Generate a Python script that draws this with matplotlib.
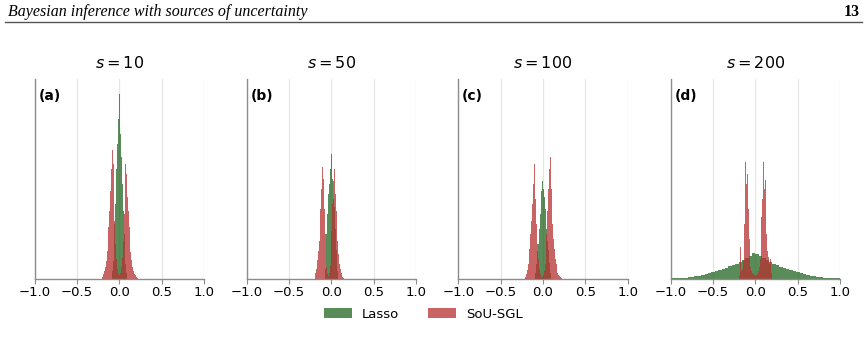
"""Posterior histograms: Lasso vs SoU-SGL for several sparsity levels s."""

import matplotlib

matplotlib.use("Agg")

import matplotlib.pyplot as plt
import numpy as np
from matplotlib.lines import Line2D
from matplotlib.patches import Patch

# ---- data (densities, per bin) ----
s_values = [10, 50, 100, 200]
panel_tags = ["(a)", "(b)", "(c)", "(d)"]
xticks = [-1.0, -0.5, 0.0, 0.5, 1.0]

# bin layout: (first left edge, bin width)
lasso_bins = [(-0.09, 0.01), (-0.08, 0.01), (-0.09, 0.01), (-1.0, 0.04)]
sgl_bins = [(-0.21, 0.01), (-0.20, 0.01), (-0.21, 0.01), (-0.20, 0.01)]

lasso_a = [0.8, 1.8, 3.2, 5.5, 7.5, 11.0, 13.5, 16.0, 19.0,
           18.5, 14.5, 12.2, 9.5, 6.8, 4.5, 2.5, 1.5, 0.6]
lasso_b = [1.0, 2.5, 4.5, 6.5, 8.5, 9.5, 11.0, 13.0,
           12.5, 10.0, 8.0, 7.2, 5.0, 2.9, 1.8, 0.8]
lasso_c = [0.6, 1.5, 2.8, 3.5, 5.0, 6.5, 7.5, 8.8, 9.8,
           9.0, 8.2, 7.0, 6.2, 5.0, 3.8, 2.9, 1.6, 0.6]
lasso_d = [0.03, 0.04, 0.06, 0.08, 0.10, 0.14, 0.19, 0.25, 0.31, 0.39,
           0.48, 0.58, 0.68, 0.77, 0.87, 0.98, 1.10, 1.23, 1.37, 1.50,
           1.70, 1.90, 2.10, 2.30, 2.60, 2.50, 2.25, 2.05, 1.85, 1.65,
           1.50, 1.35, 1.22, 1.10, 0.96, 0.86, 0.76, 0.67, 0.57, 0.47,
           0.38, 0.30, 0.24, 0.18, 0.13, 0.10, 0.07, 0.05, 0.04, 0.03]

sgl_a = [0.2, 0.3, 0.5, 0.8, 1.2, 1.8, 2.8, 4.2, 5.2, 6.8,
         8.8, 11.0, 12.9, 11.5, 8.5, 5.8, 3.5, 2.0, 1.0, 0.5,
         0.2, 0.3, 0.6, 1.2, 2.2, 3.8, 6.5, 9.8, 11.5, 10.5,
         8.2, 6.8, 5.2, 3.8, 2.7, 1.9, 1.2, 0.8, 0.5, 0.4,
         0.2, 0.2, 0.1]
sgl_b = [0.3, 0.6, 1.0, 1.9, 2.8, 3.8, 5.5, 7.0, 9.0, 11.2,
         10.0, 7.0, 4.5, 2.5, 1.2, 0.5, 0.3, 0.6, 1.4, 2.6,
         4.8, 7.5, 9.8, 11.0, 8.5, 6.8, 5.2, 3.8, 2.5, 1.5,
         1.0, 0.6, 0.4, 0.2, 0.1, 0.0, 0.0, 0.0, 0.0, 0.0,
         0.0, 0.0, 0.0, 0.0, 0.0, 0.8]
sgl_c = [0.2, 0.5, 0.9, 1.5, 2.2, 3.0, 4.5, 5.8, 7.5, 9.5,
         11.5, 10.5, 8.0, 5.5, 3.5, 2.0, 1.0, 0.5, 0.3, 0.2,
         0.2, 0.4, 0.8, 1.5, 2.8, 4.5, 6.8, 9.0, 11.0, 12.2,
         9.0, 7.0, 5.5, 4.0, 3.0, 2.0, 1.5, 1.0, 0.6, 0.4,
         0.3, 0.2, 0.1]
sgl_d = [0.0, 0.3, 3.2, 0.8, 1.0, 1.8, 4.0, 5.5, 11.7, 9.5,
         10.5, 7.0, 4.0, 2.2, 1.2, 0.8, 0.6, 0.5, 0.4, 0.3,
         0.3, 0.4, 0.5, 0.8, 1.2, 2.0, 3.5, 6.2, 8.0, 11.7,
         9.0, 9.9, 6.0, 4.5, 2.8, 2.2, 1.5, 2.0, 0.6, 0.2]

lasso_series = [lasso_a, lasso_b, lasso_c, lasso_d]
sgl_series = [sgl_a, sgl_b, sgl_c, sgl_d]

GREEN = "#236623"
RED = "#b63030"
ALPHA = 0.75
SPINE = "#8c8c8c"


def _hist(ax, values, bins, color):
    start, width = bins
    edges = start + width * np.arange(len(values) + 1)
    centers = 0.5 * (edges[:-1] + edges[1:])
    ax.hist(centers, bins=edges, weights=values, histtype="stepfilled",
            color=color, alpha=ALPHA, linewidth=0)


fig = plt.figure(figsize=(8.68, 3.51), dpi=100)
W, H = 868.0, 351.0

axes_left = [34.7, 246.7, 458.3, 670.7]
for i, s in enumerate(s_values):
    ax = fig.add_axes([axes_left[i] / W, (H - 278.7) / H, 169.5 / W, 200 / H])
    _hist(ax, lasso_series[i], lasso_bins[i], GREEN)
    _hist(ax, sgl_series[i], sgl_bins[i], RED)

    ax.set_xlim(-1.0, 1.0)
    ax.set_ylim(0, 20)
    ax.set_xticks(xticks)
    ax.set_yticks([])
    ax.grid(True, axis="x", color="#e6e6e6", linewidth=0.9)
    ax.set_axisbelow(True)
    for side in ("top", "right"):
        ax.spines[side].set_visible(False)
    for side in ("left", "bottom"):
        ax.spines[side].set_color(SPINE)
        ax.spines[side].set_linewidth(1.0)
    ax.tick_params(axis="x", labelsize=9.5, length=3.5, color=SPINE, pad=2)
    ax.set_title(f"$s = {s}$", fontsize=11.5, pad=8)
    ax.text(0.021, 0.913, panel_tags[i], transform=ax.transAxes,
            fontsize=10, fontweight="bold", va="center", ha="left")

# page header
fig.text(8 / W, 1 - 12 / H, "Bayesian inference with sources of uncertainty",
         family="Liberation Serif", style="italic", fontsize=11.5,
         ha="left", va="center")
fig.text(860 / W, 1 - 12 / H, "13", family="Liberation Serif",
         fontweight="bold", fontsize=11.5, ha="right", va="center")
fig.add_artist(Line2D([5 / W, 862 / W], [1 - 22 / H, 1 - 22 / H],
                      transform=fig.transFigure, color="#555555", lw=1.0))

handles = [Patch(facecolor=GREEN, alpha=ALPHA, label="Lasso"),
           Patch(facecolor=RED, alpha=ALPHA, label="SoU-SGL")]
fig.legend(handles=handles, loc="center", bbox_to_anchor=(423.5 / W, 1 - 314 / H),
           ncol=2, frameon=False, fontsize=9.5, handlelength=2.1,
           handleheight=0.75, handletextpad=0.77, columnspacing=2.2)

fig.savefig("out.png", dpi=100)
plt.close(fig)
